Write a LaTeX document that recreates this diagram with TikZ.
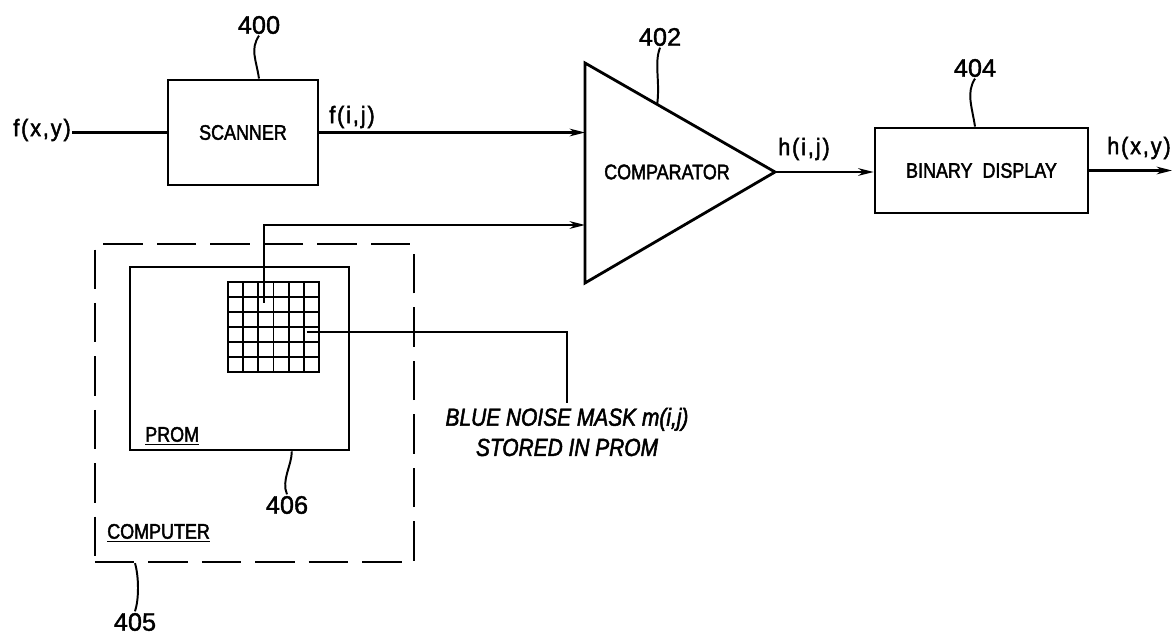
\documentclass[tikz,border=0pt]{standalone}
\usepackage{fontspec}
\setmainfont{Liberation Sans}[FakeStretch=0.85, FakeBold=2]
\newfontfamily\sigfont{Liberation Sans}[FakeStretch=0.9, FakeBold=2, LetterSpace=8]
\newfontfamily\refnumfont{Liberation Sans}[FakeBold=1.5]
\usepackage{tikz}
\usetikzlibrary{arrows.meta, positioning, calc}

\newcommand{\blkfont}{\fontsize{15}{17}\selectfont}
\newcommand{\numfont}{\fontsize{18}{20}\selectfont\refnumfont}
\newcommand{\sigsize}{\fontsize{17}{19}\selectfont\sigfont}
\newcommand{\notefont}{\fontsize{17.5}{21.5}\selectfont\itshape}

\begin{document}
\begin{tikzpicture}[x=0.025cm, y=-0.025cm,
  blk/.style={rectangle, draw, line width=2pt, font=\blkfont, inner sep=0pt},
  sig/.style={font=\sigsize, inner sep=1pt},
  refnum/.style={font=\numfont, inner sep=1pt},
  wire/.style={line width=1.5pt},
  arr/.style={line width=1.5pt, -{Stealth[length=11pt, width=5.5pt]}},
  lead/.style={line width=1.4pt},
  dashbox/.style={rectangle, draw, line width=1.6pt, dash pattern=on 28pt off 10pt, inner sep=0pt},
]
\useasboundingbox (0,0) rectangle (1172,637);

% blocks
\node[blk, minimum width=3.75cm, minimum height=2.625cm] (scanner) at (243,132.5) {SCANNER};
\node[blk, minimum width=5.325cm, minimum height=2.125cm] (display) at (981.5,170.5) {BINARY\ \ DISPLAY};

\coordinate (cmpt) at (585,63);
\coordinate (cmpb) at (585,283);
\coordinate (cmpo) at (775,172);
\draw[line width=2pt, line join=miter] (cmpt) -- (cmpo) -- (cmpb) -- cycle;
\node[font=\blkfont] (comparator) at (667,172) {COMPARATOR};
\coordinate (cin1) at (585,132.5);
\coordinate (cin2) at (585,225);

% computer with prom and mask
\node[dashbox, minimum width=7.975cm, minimum height=7.95cm] (computer) at (254.5,403) {};
\node[blk, minimum width=5.475cm, minimum height=4.575cm] (prom) at (239.5,358.5) {};
\node[draw, line width=1.8pt, minimum width=2.275cm, minimum height=2.25cm, inner sep=0pt] (mask) at (273.5,327) {};
\foreach \k in {1,...,5} {
  \draw[line width=1.3pt] ({228+\k*91/6},282) -- ({228+\k*91/6},372);
  \draw[line width=1.3pt] (228,{282+\k*90/6}) -- (319,{282+\k*90/6});
}
\coordinate (cellA) at ($(mask.north west)+(37,22)$);
\coordinate (cellB) at ($(mask.north west)+(80,51)$);

\node[font=\blkfont, anchor=south west, inner sep=0pt] (promlbl) at (145,445) {\underline{PROM}};
\node[font=\blkfont, anchor=south west, inner sep=0pt] (complbl) at (107,542) {\underline{COMPUTER}};

\node[font=\notefont, align=center] (note) at (567,432) {BLUE NOISE MASK m(i,j)\\STORED IN PROM};

% signals
\node[sig] (fxy) at (42,130) {f(x,y)};
\node[sig] (fij) at (352,117) {f(i,j)};
\node[sig] (hij) at (804,149) {h(i,j)};
\node[sig] (hxy) at (1139,148) {h(x,y)};
\coordinate (out) at (1172,170.5);

\draw[wire] (fxy.east |- scanner.west) -- (scanner.west);
\draw[arr] (scanner.east) -- (cin1);
\draw[arr] (cellA) |- (cin2);
\draw[arr] (cmpo) -- (cmpo -| display.west);
\draw[arr] (display.east) -- (out);
\draw[wire] (cellB) -| (note.north);

% reference numerals
\node[refnum] (n400) at (259,25) {400};
\node[refnum] (n402) at (660,37) {402};
\node[refnum] (n404) at (975,68) {404};
\node[refnum] (n406) at (287,505) {406};
\node[refnum] (n405) at (135,622) {405};

\draw[lead] (n400.south) .. controls +(-9,14) and +(-3,-20) .. (n400.south |- scanner.north);
\draw[lead] (n402.south) .. controls +(-6,16) and +(3,-24) .. ($(cmpt)!0.38!(cmpo)$);
\draw[lead] (n404.south) .. controls +(-9,14) and +(-3,-20) .. (n404.south |- display.north);
\draw[lead] (n406.north) .. controls +(-6,-14) and +(0,14) .. ([xshift=0.12cm]n406.north |- prom.south);
\draw[lead] (n405.north) .. controls +(4,-12) and +(4,14) .. (n405.north |- computer.south);
\end{tikzpicture}
\end{document}
